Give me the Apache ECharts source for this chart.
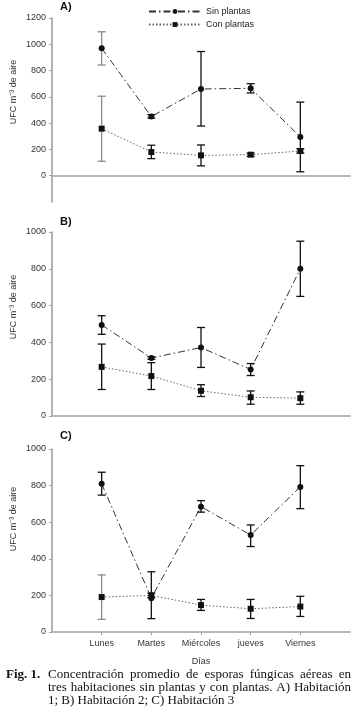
<!DOCTYPE html>
<html>
<head>
<meta charset="utf-8">
<script src="https://cdn.jsdelivr.net/npm/echarts@6/dist/echarts.min.js"></script>
<style>
  html, body { margin: 0; padding: 0; background: #fff; }
  #chart { width: 353px; height: 718px; }
</style>
</head>
<body>
<div id="chart"></div>
<script>
// dias de la semana (x = 1..5)
var days = ['Lunes', 'Martes', 'Miércoles', 'jueves', 'Viernes'];
var seriesNames = ['Sin plantas', 'Con plantas'];

// A) Habitación 1
var aSin = [970, 450, 660, 665, 295];
var aSinLow = [842, 438, 378, 630, 30];
var aSinHigh = [1095, 465, 945, 700, 560];
var aCon = [358, 180, 155, 160, 188];
var aConLow = [110, 130, 75, 147, 172];
var aConHigh = [605, 232, 234, 173, 205];

// B) Habitación 2
var bSin = [495, 315, 372, 253, 800];
var bSinLow = [444, 308, 264, 220, 650];
var bSinHigh = [545, 322, 481, 285, 950];
var bCon = [267, 217, 137, 102, 97];
var bConLow = [144, 144, 106, 64, 64];
var bConHigh = [391, 290, 170, 136, 131];

// C) Habitación 3
var cSin = [810, 185, 685, 530, 793];
var cSinLow = [748, 73, 655, 467, 674];
var cSinHigh = [873, 329, 718, 585, 909];
var cCon = [191, 200, 147, 127, 139];
var cConLow = [69, 188, 118, 74, 85];
var cConHigh = [312, 212, 178, 178, 195];

var captionLines = [
    'Concentración promedio de esporas fúngicas aéreas en',
    'tres habitaciones sin plantas y con plantas. A) Habitación',
    '1; B) Habitación 2; C) Habitación 3'
];

// puntos cuyas barras salen en gris en la figura original
var grayBars = { 'a0': true, 'a1': true, 'c1': true };

var xs = [1, 2, 3, 4, 5];

function pairs(vals) {
    return vals.map(function (v, i) { return [xs[i], v]; });
}
function errData(low, high) {
    return low.map(function (l, i) { return [xs[i], l, high[i]]; });
}

function errorRender(key) {
    return function (params, api) {
        var x = api.value(0);
        var top = api.coord([x, api.value(2)]);
        var bot = api.coord([x, api.value(1)]);
        var w = 4;
        var color = grayBars[key] && params.dataIndex === 0 ? '#8a8a8a' : '#111';
        var style = { stroke: color, lineWidth: 1.3 };
        return {
            type: 'group',
            children: [
                { type: 'line', shape: { x1: top[0], y1: top[1], x2: bot[0], y2: bot[1] }, style: style },
                { type: 'line', shape: { x1: top[0] - w, y1: top[1], x2: top[0] + w, y2: top[1] }, style: style },
                { type: 'line', shape: { x1: bot[0] - w, y1: bot[1], x2: bot[0] + w, y2: bot[1] }, style: style }
            ]
        };
    };
}

var sinLine = { color: '#333', width: 1, type: [7, 3, 1.5, 3] };
var conLine = { color: '#666', width: 1, type: [1.5, 2] };

function panelSeries(idx, sin, con, sinLow, sinHigh, conLow, conHigh, key) {
    return [
        {
            type: 'custom', xAxisIndex: idx, yAxisIndex: idx, z: 1,
            renderItem: errorRender(key + '0'), data: errData(sinLow, sinHigh), silent: true
        },
        {
            type: 'custom', xAxisIndex: idx, yAxisIndex: idx, z: 1,
            renderItem: errorRender(key + '1'), data: errData(conLow, conHigh), silent: true
        },
        {
            name: seriesNames[0], type: 'line', xAxisIndex: idx, yAxisIndex: idx, z: 3,
            data: pairs(sin), symbol: 'circle', symbolSize: 6,
            itemStyle: { color: '#111' }, lineStyle: sinLine
        },
        {
            name: seriesNames[1], type: 'line', xAxisIndex: idx, yAxisIndex: idx, z: 3,
            data: pairs(con), symbol: 'rect', symbolSize: 6,
            itemStyle: { color: '#111' }, lineStyle: conLine
        }
    ];
}

var axisGray = { lineStyle: { color: '#a0a0a0', width: 1.6 } };

function xAxisFor(grid, showLabels) {
    return {
        type: 'value', gridIndex: grid, min: 0, max: 6, interval: 1,
        axisLine: axisGray,
        splitLine: { show: false },
        axisTick: { show: showLabels, length: 3, customValues: xs, lineStyle: { color: '#a0a0a0' } },
        axisLabel: {
            show: showLabels, customValues: xs, margin: 7,
            fontFamily: 'Liberation Sans', fontSize: 9, color: '#333',
            formatter: function (v) { return days[v - 1] || ''; }
        }
    };
}

function yAxisFor(grid, min, max) {
    var ticks = [];
    for (var t = 0; t <= max; t += 200) ticks.push(t);
    return {
        type: 'value', gridIndex: grid, min: min, max: max, interval: 200,
        axisLine: { show: true, lineStyle: { color: '#a0a0a0', width: 1.6 } },
        splitLine: { show: false },
        axisTick: { show: true, length: 3, customValues: ticks, lineStyle: { color: '#a0a0a0' } },
        axisLabel: {
            customValues: ticks, margin: 6,
            fontFamily: 'Liberation Sans', fontSize: 9, color: '#333',
            formatter: function (v) { return String(v); }
        }
    };
}

// pie de figura justificado (como en la revista)
var capFont = '13px "Liberation Serif"';
var capLeft = 48, capRight = 351;
var ctx = document.createElement('canvas').getContext('2d');
ctx.font = capFont;

function captionLine(text, y, justify) {
    if (!justify) {
        return [{ type: 'text', x: capLeft, y: y, style: { text: text, font: capFont, fill: '#111', verticalAlign: 'middle' } }];
    }
    var words = text.split(' ');
    var total = 0;
    words.forEach(function (w) { total += ctx.measureText(w).width; });
    var gap = (capRight - capLeft - total) / (words.length - 1);
    var x = capLeft;
    return words.map(function (w) {
        var el = { type: 'text', x: x, y: y, style: { text: w, font: capFont, fill: '#111', verticalAlign: 'middle' } };
        x += ctx.measureText(w).width + gap;
        return el;
    });
}

var yName = 'UFC m\u207B\u00B3 de aire';
function yTitle(y) {
    return { type: 'text', x: 14, y: y, rotation: Math.PI / 2, style: { text: yName, font: '9px "Liberation Sans"', fill: '#333', align: 'center', verticalAlign: 'middle' } };
}
function panelTag(t, top) {
    return { type: 'text', left: 60, top: top, style: { text: t, font: 'bold 11px "Liberation Sans"', fill: '#111' } };
}

var graphics = [
    panelTag('A)', 1), panelTag('B)', 216), panelTag('C)', 430),
    yTitle(92), yTitle(307), yTitle(519),
    { type: 'text', x: 201, y: 662, style: { text: 'Días', font: '9px "Liberation Sans"', fill: '#333', align: 'center', verticalAlign: 'middle' } },
    { type: 'text', x: 6, y: 675, style: { text: 'Fig. 1.', font: 'bold 13px "Liberation Serif"', fill: '#111', verticalAlign: 'middle' } }
].concat(
    captionLine(captionLines[0], 675, true),
    captionLine(captionLines[1], 688, true),
    captionLine(captionLines[2], 701, false)
);

var option = {
    animation: false,
    backgroundColor: '#fff',
    grid: [
        { left: 52, top: 18, width: 298, height: 184 },
        { left: 52, top: 232, width: 298, height: 184 },
        { left: 52, top: 449, width: 298, height: 183 }
    ],
    xAxis: [xAxisFor(0, false), xAxisFor(1, false), xAxisFor(2, true)],
    yAxis: [yAxisFor(0, -200, 1200), yAxisFor(1, 0, 1000), yAxisFor(2, 0, 1000)],
    legend: {
        data: seriesNames,
        orient: 'vertical',
        left: 143, top: 2,
        itemWidth: 52, itemHeight: 6, itemGap: 4,
        textStyle: { fontFamily: 'Liberation Sans', fontSize: 9, color: '#222' },
        selectedMode: false
    },
    graphic: graphics,
    series: [].concat(
        panelSeries(0, aSin, aCon, aSinLow, aSinHigh, aConLow, aConHigh, 'a'),
        panelSeries(1, bSin, bCon, bSinLow, bSinHigh, bConLow, bConHigh, 'b'),
        panelSeries(2, cSin, cCon, cSinLow, cSinHigh, cConLow, cConHigh, 'c')
    )
};

var chart = echarts.init(document.getElementById('chart'));
chart.setOption(option);
</script>
</body>
</html>
